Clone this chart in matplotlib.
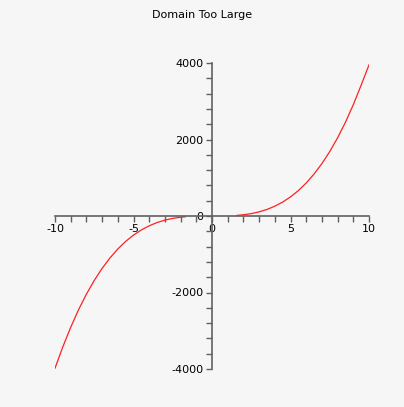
import matplotlib.pyplot as plt
from matplotlib.ticker import MultipleLocator

plt.rcParams["axes.unicode_minus"] = False

# values (left and right branches)
x_left = [-10, -9.5, -9, -8.5, -8, -7.5, -7, -6.5, -6, -5.5, -5, -4.5, -4,
          -3.5, -3, -2.5, -2, -1.7]
y_left = [-3980, -3420, -2910, -2450, -2045, -1685, -1370, -1097, -862, -664,
          -500, -364, -256, -171, -108, -62, -32, -20]
x_right = [1.6, 2, 2.5, 3, 3.5, 4, 4.5, 5, 5.5, 6, 6.5, 7, 7.5, 8, 8.5, 9,
           9.5, 10]
y_right = [16, 32, 62, 108, 171, 256, 364, 500, 664, 862, 1097, 1370, 1685,
           2045, 2450, 2910, 3420, 3950]

title = "Domain Too Large"

fig = plt.figure(figsize=(4.04, 4.07), dpi=100)
fig.patch.set_facecolor("#f6f6f6")
ax = fig.add_axes([55 / 404, 38 / 407, 314 / 404, 306 / 407])
ax.set_facecolor("#f6f6f6")

ax.plot(x_left, y_left, color="#ff2020", lw=0.9)
ax.plot(x_right, y_right, color="#ff2020", lw=0.9)

ax.set_xlim(-10, 10)
ax.set_ylim(-4000, 4000)

for s in ["top", "right"]:
    ax.spines[s].set_visible(False)
ax.spines["left"].set_position("zero")
ax.spines["bottom"].set_position("zero")
for s in ["left", "bottom"]:
    ax.spines[s].set_color("#606060")
    ax.spines[s].set_linewidth(1.2)

ax.xaxis.set_major_locator(MultipleLocator(5))
ax.xaxis.set_minor_locator(MultipleLocator(1))
ax.yaxis.set_major_locator(MultipleLocator(2000))
ax.yaxis.set_minor_locator(MultipleLocator(400))
ax.tick_params(which="both", direction="out", length=4, width=1, color="#606060",
               labelsize=8, pad=2)

fig.text(0.5, 1 - 15 / 407, title, ha="center", va="center", fontsize=8)

fig.savefig("out.png", dpi=100, facecolor=fig.get_facecolor())
